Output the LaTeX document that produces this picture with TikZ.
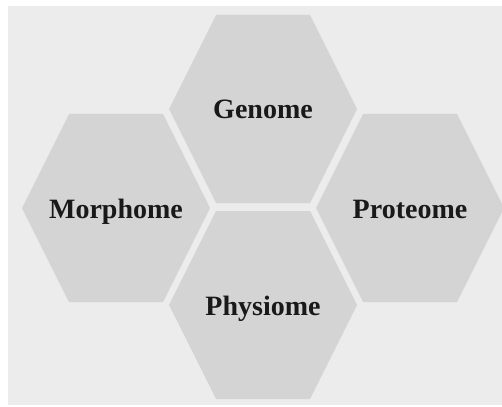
\documentclass[tikz,border=0pt]{standalone}
\usepackage{fontspec}
\setmainfont{Liberation Serif}
\definecolor{bgc}{RGB}{236,236,236}
\definecolor{hexc}{RGB}{212,212,212}
\begin{document}
\begin{tikzpicture}[x=1pt,y=-1pt,
  hexshape/.style={fill=hexc},
  lbl/.style={font=\fontsize{28}{30}\selectfont\bfseries, text=black!90, anchor=base, inner sep=0pt}]
\useasboundingbox (0,0) rectangle (502,406);
\fill[white] (0,0) rectangle (502,406);
\fill[bgc] (8,6) rectangle (502,405);
\foreach \n/\cx/\cy/\t in {genome/263/109/Genome, morphome/116/208/Morphome, proteome/410/208/Proteome, physiome/263/305/Physiome} {
  \fill[hexshape] (\cx-94,\cy) -- ++(47,-94) -- ++(94,0) -- ++(47,94) -- ++(-47,94) -- ++(-94,0) -- cycle;
  \node[lbl] (\n) at (\cx,\cy+10) {\t};
}
\end{tikzpicture}
\end{document}
